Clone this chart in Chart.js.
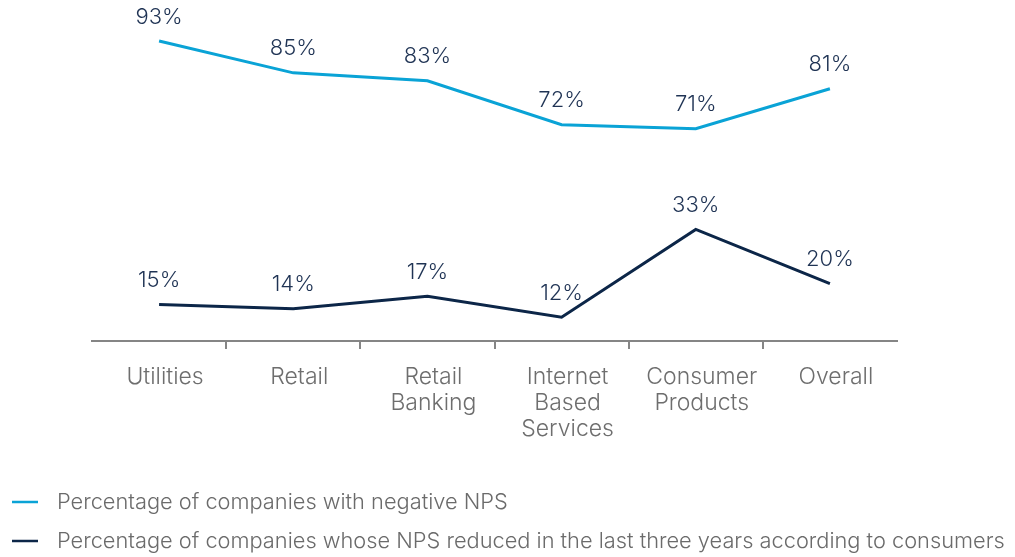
<!DOCTYPE html>
<html>
<head>
<meta charset="utf-8">
<script src="https://cdn.jsdelivr.net/npm/chart.js@4.4.1/dist/chart.umd.min.js"></script>
<style>
  html, body { margin: 0; padding: 0; background: #fff; }
  #wrap { width: 1015px; height: 557px; position: relative; }
</style>
</head>
<body>
<div id="wrap"><canvas id="mycanvas"></canvas></div>
<script>
var categories = [["Utilities"], ["Retail"], ["Retail", "Banking"], ["Internet", "Based", "Services"], ["Consumer", "Products"], ["Overall"]];
var seriesNames = ["Percentage of companies with negative NPS",
                   "Percentage of companies whose NPS reduced in the last three years according to consumers"];
var negativeNPS = [93, 85, 83, 72, 71, 81];
var reducedNPS = [15, 14, 17, 12, 33, 20];

var FONT = "Inter, 'Helvetica Neue', Arial, sans-serif";

/* percent labels above every point */
var valueLabels = {
	id: 'valueLabels',
	afterDatasetsDraw: function(chart) {
		var ctx = chart.ctx;
		ctx.save();
		ctx.font = "300 22px " + FONT;
		ctx.fillStyle = '#1f3354';
		ctx.textAlign = 'center';
		ctx.textBaseline = 'middle';
		chart.data.datasets.forEach(function(ds, i) {
			var meta = chart.getDatasetMeta(i);
			meta.data.forEach(function(pt, j) {
				ctx.fillText(ds.data[j] + '%', pt.x, pt.y - 24);
			});
		});
		ctx.restore();
	}
};

/* legend drawn as two stacked rows at the bottom left */
var stackLegend = {
	id: 'stackLegend',
	afterDraw: function(chart) {
		var ctx = chart.ctx;
		ctx.save();
		ctx.font = "300 21.8px " + FONT;
		ctx.textBaseline = 'middle';
		ctx.textAlign = 'left';
		chart.data.datasets.forEach(function(ds, i) {
			var y = 502 + i * 39;
			ctx.strokeStyle = ds.borderColor;
			ctx.lineWidth = 2.5;
			ctx.beginPath();
			ctx.moveTo(12, y);
			ctx.lineTo(38, y);
			ctx.stroke();
			ctx.fillStyle = '#6b6b6b';
			ctx.fillText(ds.label, 57, y);
		});
		ctx.restore();
	}
};

/* no tick marks at the two ends of the axis */
function tickCol(c) {
	if (c.index === undefined || c.index === 0) return 'rgba(0,0,0,0)';
	return '#858585';
}

var chartdata = {
	labels: categories,
	datasets: [
		{
			label: seriesNames[0],
			data: negativeNPS,
			borderColor: '#0aa3d6',
			backgroundColor: '#0aa3d6',
			borderWidth: 3,
			pointRadius: 0,
			tension: 0,
			yAxisID: 'y'
		},
		{
			label: seriesNames[1],
			data: reducedNPS,
			borderColor: '#0c2648',
			backgroundColor: '#0c2648',
			borderWidth: 3,
			pointRadius: 0,
			tension: 0,
			yAxisID: 'y2'
		}
	]
};

var ctx = document.getElementById('mycanvas');
var lineGraph = new Chart(ctx, {
	type: 'line',
	data: chartdata,
	options: {
		responsive: true,
		maintainAspectRatio: false,
		animation: false,
		layout: { padding: { left: 92, right: 118, top: 23, bottom: 100 } },
		plugins: {
			legend: { display: false },
			tooltip: { enabled: false }
		},
		scales: {
			x: {
				offset: true,
				border: { display: true, color: '#858585', width: 2 },
				grid: {
					offset: true,
					drawOnChartArea: false,
					drawTicks: true,
					tickLength: 8,
					color: tickCol,
					tickColor: tickCol,
					lineWidth: 2
				},
				ticks: {
					color: '#6e6e6e',
					padding: 15,
					labelOffset: 6,
					maxRotation: 0,
					autoSkip: false,
					font: { family: FONT, size: 23, weight: 300, lineHeight: 1.13 }
				}
			},
			y: { display: false, min: 17.75, max: 97.5 },
			y2: { display: false, min: 6.28, max: 82.4 }
		}
	},
	plugins: [valueLabels, stackLegend]
});
</script>
</body>
</html>
